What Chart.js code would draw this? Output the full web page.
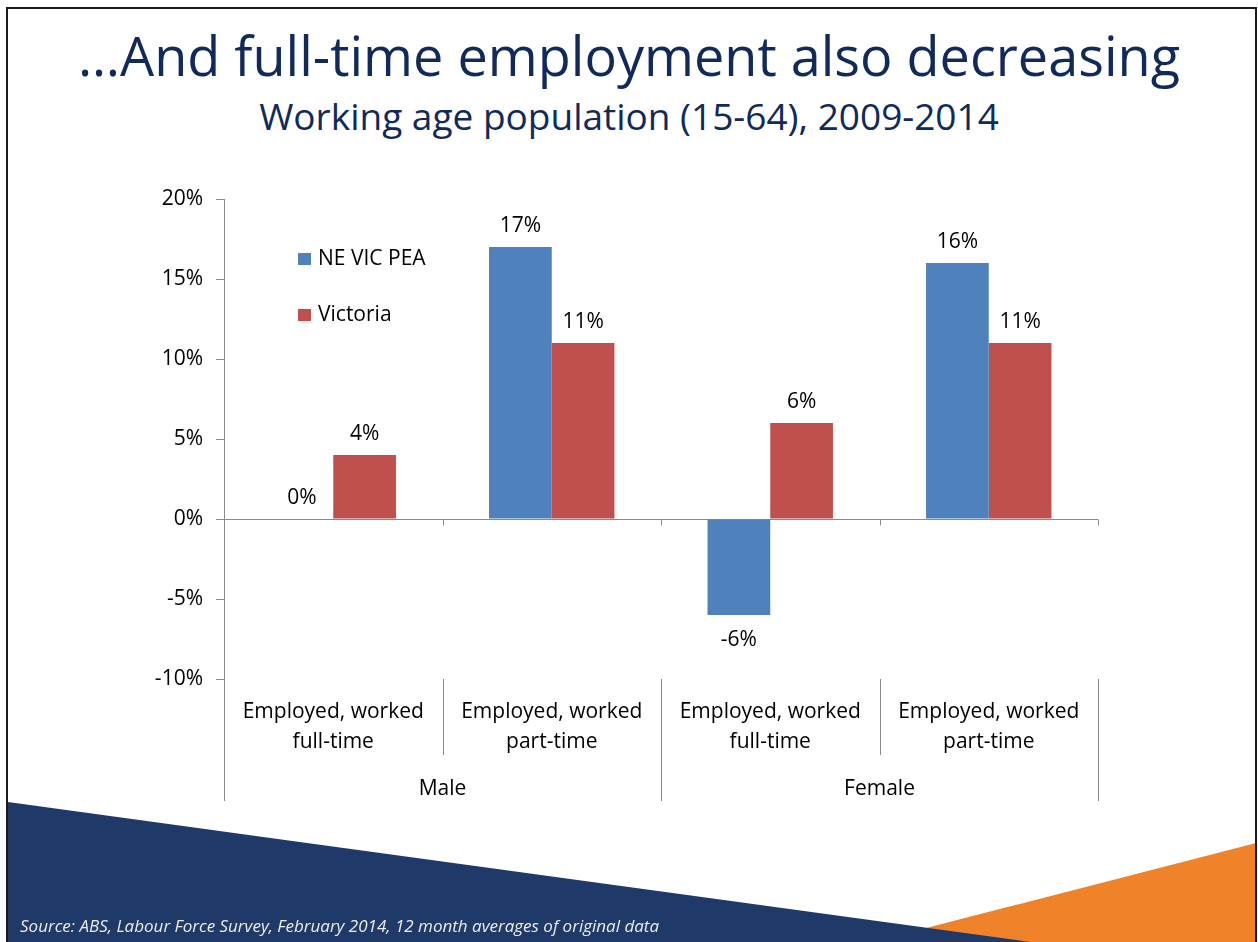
<!DOCTYPE html>
<html>
<head>
<meta charset="utf-8">
<title>Full-time employment</title>
<script src="https://cdn.jsdelivr.net/npm/chart.js@4.4.1/dist/chart.umd.min.js"></script>
<style>
  html, body { margin: 0; padding: 0; background: #fff; }
  #slide { position: relative; width: 1258px; height: 942px; overflow: hidden; font-family: 'Open Sans', sans-serif; }
  #deco, #chart { position: absolute; left: 0; top: 0; }
  #frame { position: absolute; left: 6px; top: 7px; width: 1251px; height: 940px; box-sizing: border-box;
           border: 2px solid #1b1b1b; border-bottom: none; }
  .head { position: absolute; left: 0; width: 1258px; text-align: center; color: #102a5c; white-space: nowrap; line-height: 1; }
  #title { top: 28px; font-size: 54px; }
  #subtitle { top: 97px; font-size: 37px; }
  #source { position: absolute; left: 20px; top: 917px; font-size: 17px; line-height: 1; font-style: italic; color: #ececec; white-space: nowrap; }
</style>
</head>
<body>
<div id="slide">
  <svg id="deco" width="1258" height="942">
    <polygon points="872,942 1256,843 1256,942" fill="#f0832a"/>
    <polygon points="8,802 1030,942 8,942" fill="#1f3a68"/>
  </svg>
  <div id="frame"></div>
  <div class="head" id="title">…And full-time employment also decreasing</div>
  <div class="head" id="subtitle">Working age population (15-64), 2009-2014</div>
  <canvas id="chart" width="1258" height="942"></canvas>
  <div id="source">Source: ABS, Labour Force Survey, February 2014, 12 month averages of original data</div>
</div>
<script>
// data
var categories = [
  ['Employed, worked', 'full-time'],
  ['Employed, worked', 'part-time'],
  ['Employed, worked', 'full-time'],
  ['Employed, worked', 'part-time']
];
var groups = ['Male', 'Female'];
var seriesNames = ['NE VIC PEA', 'Victoria'];
var neVicPea = [0, 17, -6, 16];
var victoria = [4, 11, 6, 11];
var yMin = -10, yMax = 20, yStep = 5;

var fontFamily = "'Open Sans', sans-serif";
var axisGray = '#8a8a8a';

// value labels above / below each bar
var barLabels = {
    id: 'barLabels',
    afterDatasetsDraw: function (chart) {
        var ctx = chart.ctx;
        ctx.save();
        ctx.font = '21px ' + fontFamily;
        ctx.fillStyle = '#000';
        ctx.textAlign = 'center';
        ctx.textBaseline = 'middle';
        chart.data.datasets.forEach(function (ds, i) {
            chart.getDatasetMeta(i).data.forEach(function (bar, j) {
                var v = ds.data[j];
                ctx.fillText(v + '%', bar.x, v < 0 ? bar.y + 25 : bar.y - 21);
            });
        });
        ctx.restore();
    }
};

// legend sitting inside the plot, top left
var innerLegend = {
    id: 'innerLegend',
    afterDraw: function (chart) {
        var ctx = chart.ctx, area = chart.chartArea;
        ctx.save();
        ctx.font = '21px ' + fontFamily;
        ctx.textBaseline = 'middle';
        chart.data.datasets.forEach(function (ds, i) {
            var y = area.top + 60 + i * 56;
            ctx.fillStyle = ds.backgroundColor;
            ctx.fillRect(area.left + 74, y - 6, 13, 12);
            ctx.fillStyle = '#000';
            ctx.fillText(ds.label, area.left + 94, y);
        });
        ctx.restore();
    }
};

// zero line ticks and the two-level category dividers
var dividers = {
    id: 'dividers',
    afterDraw: function (chart) {
        var ctx = chart.ctx, area = chart.chartArea;
        var x = chart.scales.x, g = chart.scales.group, y = chart.scales.y;
        var w = x.getPixelForValue(1) - x.getPixelForValue(0);
        var zero = Math.round(y.getPixelForValue(0)) + 0.5;
        ctx.save();
        ctx.strokeStyle = axisGray;
        ctx.lineWidth = 1;
        ctx.beginPath();
        for (var i = 0; i <= categories.length; i++) {
            var px = Math.round(x.getPixelForValue(0) - w / 2 + i * w) + 0.5;
            ctx.moveTo(px, zero);
            ctx.lineTo(px, zero + 6);
            var isGroupEdge = (i % (categories.length / groups.length)) === 0;
            ctx.moveTo(px, area.bottom);
            ctx.lineTo(px, isGroupEdge ? g.bottom : x.bottom - 16);
        }
        ctx.stroke();
        ctx.restore();
    }
};

var chart = new Chart(document.getElementById('chart').getContext('2d'), {
    type: 'bar',
    data: {
        labels: categories,
        datasets: [
            { label: seriesNames[0], data: neVicPea, backgroundColor: '#4f81bd' },
            { label: seriesNames[1], data: victoria, backgroundColor: '#c0504d' }
        ]
    },
    options: {
        responsive: false,
        animation: false,
        layout: { padding: { left: 154, right: 160, top: 199, bottom: 141 } },
        datasets: { bar: { categoryPercentage: 0.574, barPercentage: 1 } },
        plugins: { legend: { display: false }, tooltip: { enabled: false } },
        scales: {
            x: {
                type: 'category', position: 'bottom', weight: 1, offset: true,
                grid: { display: false, drawTicks: false }, border: { display: false },
                ticks: { color: '#000', padding: 18, autoSkip: false, maxRotation: 0,
                         font: { family: fontFamily, size: 21, lineHeight: 1.43 } },
                afterFit: function (s) { s.height = 92; }
            },
            group: {
                type: 'category', axis: 'x', position: 'bottom', weight: 2, offset: true, labels: groups,
                grid: { display: false, drawTicks: false }, border: { display: false },
                ticks: { color: '#000', padding: 5, autoSkip: false, maxRotation: 0,
                         font: { family: fontFamily, size: 21 } },
                afterFit: function (s) { s.height = 30; }
            },
            y: {
                min: yMin, max: yMax,
                ticks: { stepSize: yStep, color: '#000', padding: 13,
                         font: { family: fontFamily, size: 21 },
                         callback: function (v) { return v + '%'; } },
                grid: {
                    color: function (c) { return c.tick && c.tick.value === 0 ? axisGray : 'rgba(0,0,0,0)'; },
                    tickColor: axisGray, tickLength: 8
                },
                border: { color: axisGray },
                afterFit: function (s) { s.width = 70; }
            }
        }
    },
    plugins: [barLabels, innerLegend, dividers]
});
</script>
</body>
</html>
